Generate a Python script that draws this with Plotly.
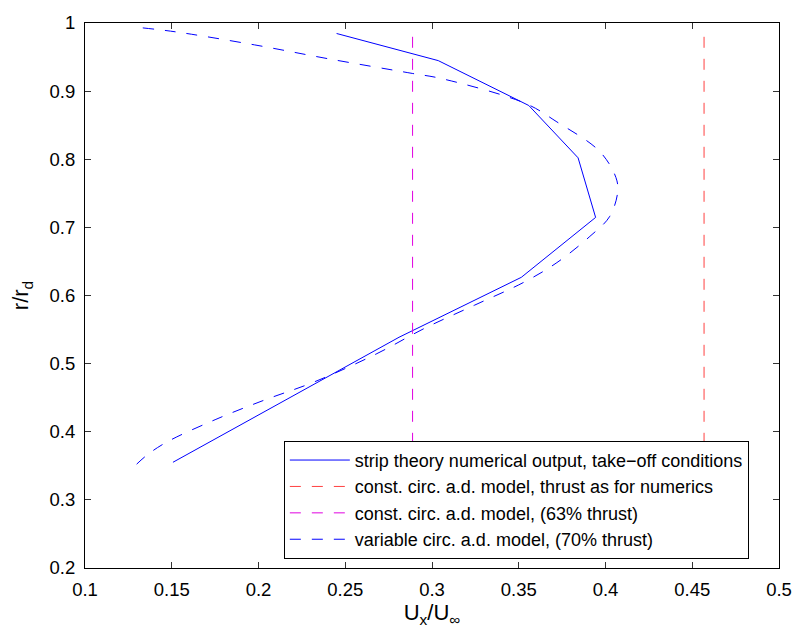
import plotly.graph_objects as go

# strip theory numerical output
strip_x = [0.245, 0.3036, 0.3558, 0.3842, 0.3943, 0.3515, 0.281, 0.1507]
strip_r = [0.9846, 0.9448, 0.8789, 0.8021, 0.7146, 0.6267, 0.5387, 0.3552]

# constant circulation actuator disc models (vertical lines)
const_full_x = [0.4568, 0.4568]
const_63_x = [0.2888, 0.2888]
const_r = [0.35, 0.9856]

# variable circulation actuator disc model
var_x = [0.1333, 0.1523, 0.1977, 0.2411, 0.2886, 0.3057, 0.354, 0.372, 0.3966, 0.406,
         0.407, 0.4023, 0.391, 0.372, 0.353, 0.3246, 0.296, 0.2678, 0.2318, 0.2034,
         0.175, 0.1466, 0.1352, 0.1276]
var_r = [0.9928, 0.987, 0.9679, 0.9471, 0.926, 0.9183, 0.8818, 0.8548, 0.8116, 0.7733,
         0.7516, 0.7156, 0.6868, 0.6483, 0.6195, 0.5859, 0.5522, 0.5141, 0.4728, 0.4465,
         0.4177, 0.3841, 0.3647, 0.3470]

x_ticks = [0.1, 0.15, 0.2, 0.25, 0.3, 0.35, 0.4, 0.45, 0.5]
x_tick_labels = ["0.1", "0.15", "0.2", "0.25", "0.3", "0.35", "0.4", "0.45", "0.5"]
y_ticks = [0.2, 0.3, 0.4, 0.5, 0.6, 0.7, 0.8, 0.9, 1.0]
y_tick_labels = ["0.2", "0.3", "0.4", "0.5", "0.6", "0.7", "0.8", "0.9", "1"]

FONT = "Liberation Sans, Arial, Helvetica, sans-serif"

fig = go.Figure()
fig.add_trace(go.Scatter(x=strip_x, y=strip_r, mode="lines",
                         line=dict(color="#0000ff", width=1),
                         name="strip theory numerical output, take\u2212off conditions"))
fig.add_trace(go.Scatter(x=const_full_x, y=const_r, mode="lines",
                         line=dict(color="#ff4040", width=1, dash="11px,11px"),
                         name="const. circ. a.d. model, thrust as for numerics"))
fig.add_trace(go.Scatter(x=const_63_x, y=const_r, mode="lines",
                         line=dict(color="#e000e0", width=1, dash="11px,11px"),
                         name="const. circ. a.d. model, (63% thrust)"))
fig.add_trace(go.Scatter(x=var_x, y=var_r, mode="lines", line_shape="spline",
                         line=dict(color="#0000ff", width=1, dash="11px,11px"),
                         name="variable circ. a.d. model, (70% thrust)"))

axis_common = dict(showgrid=False, zeroline=False, showline=True, linecolor="black",
                   linewidth=1, mirror="allticks", ticks="inside", ticklen=6,
                   tickcolor="#333333", tickfont=dict(size=18.5, color="black", family=FONT))

fig.update_layout(
    width=804, height=628,
    margin=dict(l=85, r=15, t=16, b=57),
    paper_bgcolor="white", plot_bgcolor="white",
    font=dict(family=FONT, size=18, color="black"),
    xaxis=dict(range=[0.1, 0.5], tickvals=x_ticks, ticktext=x_tick_labels,
               ticklabelstandoff=5,
               title=dict(text="U<sub>x</sub>/U<sub>\u221e</sub>", standoff=0,
                          font=dict(size=22)), **axis_common),
    yaxis=dict(range=[0.2, 1.0], tickvals=y_ticks, ticktext=y_tick_labels,
               ticklabelstandoff=5,
               title=dict(text="r/r<sub>d</sub>", standoff=14, font=dict(size=22)),
               **axis_common),
    legend=dict(x=0.2865, y=0.0168, xanchor="left", yanchor="bottom",
                bgcolor="white", bordercolor="black", borderwidth=1,
                font=dict(size=18, family=FONT), tracegroupgap=0, itemwidth=60),
    showlegend=True,
)

fig.write_html("out.html", config={"displayModeBar": False},
               post_script="document.body.style.margin='0px';document.body.style.overflow='hidden';")
